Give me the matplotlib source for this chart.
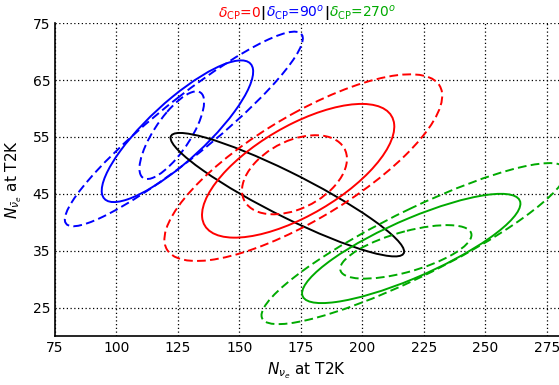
import numpy as np
import matplotlib
matplotlib.use("Agg")
from matplotlib import pyplot as plt
from matplotlib.patches import Ellipse
from matplotlib.offsetbox import TextArea, HPacker, AnchoredOffsetbox

# contour ellipses: centre, half extent in x / y, x-y correlation
names = ["blue_1", "blue_2", "blue_3", "black", "red_1", "red_2", "red_3",
         "green_1", "green_2", "green_3"]
center_x = [124.8, 127.4, 122.5, 169.5, 173.9, 176.0, 172.4, 219.9, 217.7, 221.0]
center_y = [56.0, 56.4, 55.3, 44.85, 49.05, 49.6, 48.35, 35.4, 34.8, 36.25]
half_x = [30.8, 48.4, 13.15, 47.5, 39.1, 56.5, 21.35, 44.4, 26.7, 62.0]
half_y = [12.45, 17.1, 7.7, 10.85, 11.75, 16.4, 6.95, 9.6, 4.7, 14.15]
corr = [0.84, 0.93, 0.76, -0.92, 0.66, 0.77, 0.40, 0.82, 0.63, 0.89]

colors = ['#0000ff', '#0000ff', '#0000ff', 'black', '#ff0000', '#ff0000',
          '#ff0000', '#00aa00', '#00aa00', '#00aa00']
styles = ['-', '--', '--', '-', '-', '--', '--', '-', '--', '--']

x_ticks = [75, 100, 125, 150, 175, 200, 225, 250, 275]
y_ticks = [25, 35, 45, 55, 65, 75]

title_parts = [(r"$\delta_{\rm CP}$=0", '#ff0000'),
               ("|", 'black'),
               (r"$\delta_{\rm CP}$=90$^o$", '#0000ff'),
               ("|", 'black'),
               (r"$\delta_{\rm CP}$=270$^o$", '#00aa00')]

fig = plt.figure(figsize=(5.59, 3.85), dpi=100)
ax = fig.add_axes([0.0984, 0.127, 0.9016, 0.813])

for i in range(len(names)):
    cov = np.array([[half_x[i] ** 2, corr[i] * half_x[i] * half_y[i]],
                    [corr[i] * half_x[i] * half_y[i], half_y[i] ** 2]])
    vals, vecs = np.linalg.eigh(cov)
    ang = np.degrees(np.arctan2(vecs[1, 1], vecs[0, 1]))
    e = Ellipse((center_x[i], center_y[i]),
                width=2 * np.sqrt(vals[1]), height=2 * np.sqrt(vals[0]),
                angle=ang, fill=False, edgecolor=colors[i],
                linestyle=styles[i], linewidth=1.4, zorder=3)
    if styles[i] == '--':
        e.set_linestyle((0, (4.5, 2.2)))
    ax.add_patch(e)

ax.set_xlim(75, 280)
ax.set_ylim(20, 75)
ax.set_xticks(x_ticks)
ax.set_yticks(y_ticks)
ax.tick_params(direction='in', length=0, labelsize=10, pad=3.5)
ax.grid(True, color='black', linestyle=(0, (1, 2)), linewidth=0.9)
ax.set_axisbelow(True)
ax.spines['top'].set_visible(False)
ax.spines['right'].set_visible(False)
for s in ['left', 'bottom']:
    ax.spines[s].set_linewidth(1.2)

ax.set_xlabel(r"$N_{\nu_e}$ at T2K", fontsize=11, labelpad=4)
ax.set_ylabel(r"$N_{\bar{\nu}_e}$ at T2K", fontsize=11, labelpad=6)

# coloured title built from pieces
boxes = []
for txt, c in title_parts:
    props = dict(color=c, fontsize=10)
    if txt == "|":
        props['fontweight'] = 'bold'
    boxes.append(TextArea(txt, textprops=props))
row = HPacker(children=boxes, align='baseline', pad=0, sep=0)
anchored = AnchoredOffsetbox(loc='lower center', child=row, pad=0, borderpad=0,
                             frameon=False, bbox_to_anchor=(0.5, 1.003),
                             bbox_transform=ax.transAxes)
ax.add_artist(anchored)

plt.savefig("out.png", dpi=100)
plt.close()
